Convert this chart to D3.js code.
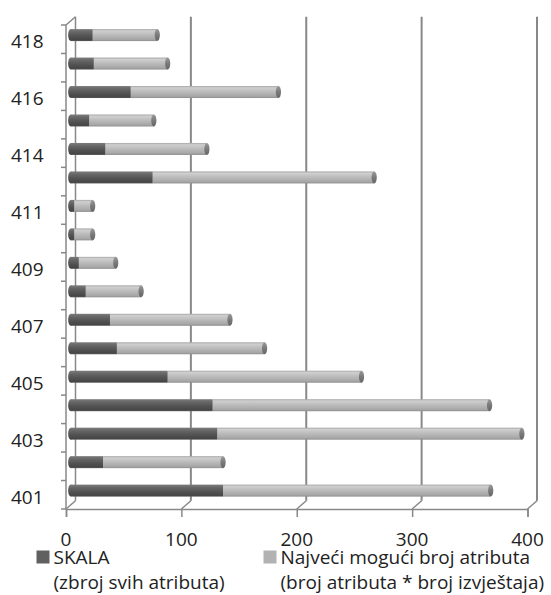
<!DOCTYPE html>
<html><head><meta charset="utf-8">
<script src="https://cdn.jsdelivr.net/npm/d3@7"></script>
<style>
html,body{margin:0;padding:0;background:#fff;}
svg{display:block;font-family:"Open Sans",sans-serif;}
</style></head>
<body>
<svg id="chart" width="551" height="595"></svg>
<script>
const categories = ["401","402","403","404","405","406","407","408","409","410","411","413","414","415","416","417","418"];
const skala      = [132, 28, 127, 123, 84, 40, 34, 13, 7, 3, 3, 71, 30, 16, 52, 20, 19];
const najveci    = [232, 104, 264, 240, 168, 128, 104, 48, 32, 16, 16, 192, 88, 56, 128, 64, 56];
const xTicks     = [0, 100, 200, 300, 400];
const yTickLabels = ["401","403","405","407","409","411","414","416","418"];
const seriesNames = [["SKALA","(zbroj svih atributa)"],["Najveći mogući broj atributa","(broj atributa * broj izvještaja)"]];

const svg = d3.select("#chart");
const DX = 9.5, DY = -8.3;
const x = d3.scaleLinear().domain([0, 400]).range([66, 527.5]);
const y = d3.scaleBand().domain(categories.slice().reverse()).range([25, 509]).padding(0);
const gridCol = "#888888";

const defs = svg.append("defs");
function grad(id, stops){
  const g = defs.append("linearGradient").attr("id", id).attr("x1",0).attr("y1",0).attr("x2",0).attr("y2",1);
  stops.forEach(s => g.append("stop").attr("offset", s[0]).attr("stop-color", s[1]));
}
grad("gDark", [[0,"#7c7c7c"],[0.25,"#666"],[0.6,"#525252"],[0.9,"#464646"],[1,"#5a5a5a"]]);
grad("gLight", [[0,"#a6a6a6"],[0.15,"#cfcfcf"],[0.45,"#bdbdbd"],[0.85,"#a7a7a7"],[1,"#8e8e8e"]]);
grad("gCap", [[0,"#9a9a9a"],[0.5,"#7a7a7a"],[1,"#666"]]);
grad("gCapD", [[0,"#666"],[0.5,"#4e4e4e"],[1,"#444"]]);

// back wall gridlines
const g0 = svg.append("g");
xTicks.forEach(v => {
  g0.append("line").attr("x1", x(v)+DX).attr("x2", x(v)+DX)
    .attr("y1", y.range()[0]+DY).attr("y2", y.range()[1]+DY)
    .attr("stroke", gridCol).attr("stroke-width", v===0?1.5:2);
  // floor diagonal
  g0.append("line").attr("x1", x(v)).attr("y1", 509).attr("x2", x(v)+DX).attr("y2", 509+DY)
    .attr("stroke", gridCol).attr("stroke-width", 1.5);
});
// top-left diagonal
g0.append("line").attr("x1", x(0)).attr("y1", 25).attr("x2", x(0)+DX).attr("y2", 25+DY)
  .attr("stroke", gridCol).attr("stroke-width", 1.5);

// front axes
const xAxis = d3.axisBottom(x).tickValues(xTicks).tickSize(8).tickPadding(4);
const gx = svg.append("g").attr("transform", "translate(0,509)").call(xAxis);
gx.select(".domain").attr("stroke", gridCol).attr("stroke-width", 1.5);
gx.selectAll(".tick line").attr("stroke", gridCol).attr("stroke-width", 1.5);
gx.selectAll(".tick text").remove();
xTicks.forEach(v => {
  svg.append("text").attr("x", x(v)).attr("y", 546).attr("text-anchor","middle")
    .attr("font-size", 19).attr("fill", "#222").text(v);
});

// left axis line and ticks at band boundaries
svg.append("line").attr("x1", x(0)).attr("x2", x(0)).attr("y1", 25).attr("y2", 509)
  .attr("stroke", gridCol).attr("stroke-width", 1.5);
const bounds = categories.map(c => y(c)).concat([509]);
bounds.forEach(b => {
  svg.append("line").attr("x1", x(0)-5).attr("x2", x(0)).attr("y1", b).attr("y2", b)
    .attr("stroke", gridCol).attr("stroke-width", 1.5);
});
yTickLabels.forEach(c => {
  svg.append("text").attr("x", 43.5).attr("y", y(c) + y.bandwidth()/2 + 9.2)
    .attr("text-anchor","end").attr("font-size", 19).attr("fill", "#222").text(c);
});

// bars
const bh = 12, rx = 2.6;
const gb = svg.append("g");
categories.forEach((c, i) => {
  const cy = y(c) + y.bandwidth()/2 + DY/2;
  const x0 = x(0) + DX/2;
  const xs = x(skala[i]) + DX/2;
  const xt = x(skala[i] + najveci[i]) + DX/2;
  // left rounded start
  gb.append("ellipse").attr("cx", x0).attr("cy", cy).attr("rx", rx).attr("ry", bh/2)
    .attr("fill", "url(#gDark)");
  gb.append("rect").attr("x", xs).attr("y", cy-bh/2).attr("width", Math.max(0, xt-xs)).attr("height", bh)
    .attr("fill", "url(#gLight)");
  gb.append("rect").attr("x", x0).attr("y", cy-bh/2).attr("width", Math.max(0, xs-x0)).attr("height", bh)
    .attr("fill", "url(#gDark)");
  gb.append("ellipse").attr("cx", xt).attr("cy", cy).attr("rx", rx).attr("ry", bh/2)
    .attr("fill", "url(#gCap)");
});

// legend
const legColors = ["#606060", "#b2b2b2"];
const legX = [36.5, 263.5];
seriesNames.forEach((n, i) => {
  svg.append("rect").attr("x", legX[i]).attr("y", 550.5).attr("width", 13).attr("height", 13).attr("fill", legColors[i]);
  svg.append("text").attr("x", legX[i]+17).attr("y", 564).attr("font-size", 19).attr("fill", "#222").text(n[0]);
  svg.append("text").attr("x", legX[i]+17).attr("y", 588.5).attr("font-size", 19).attr("fill", "#222").text(n[1]);
});
</script>
</body></html>
